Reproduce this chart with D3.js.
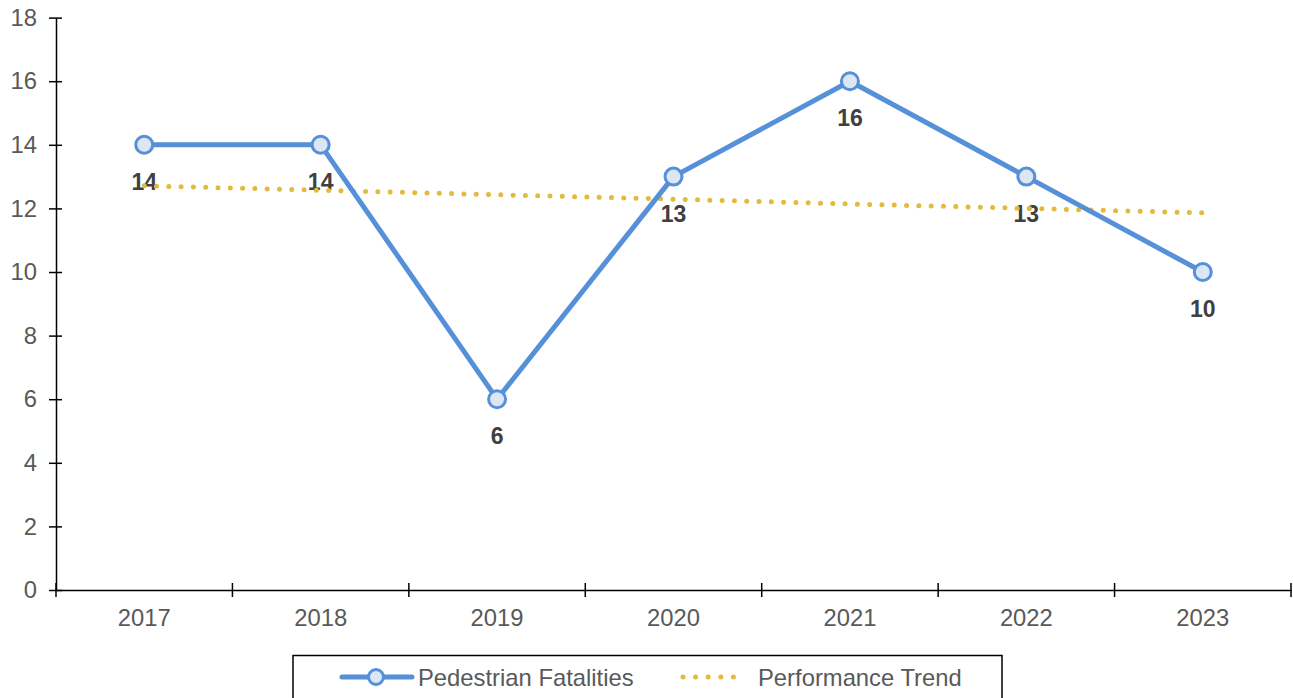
<!DOCTYPE html>
<html>
<head>
<meta charset="utf-8">
<script src="https://cdn.jsdelivr.net/npm/d3@7"></script>
<style>
  body { margin: 0; background: #ffffff; }
  svg { display: block; font-family: "Liberation Sans", Arial, sans-serif; }
</style>
</head>
<body>
<div id="chart"></div>
<script>
// Data
const years = ['2017', '2018', '2019', '2020', '2021', '2022', '2023'];
const fatalities = [14, 14, 6, 13, 16, 13, 10];
const trend = [12.71, 12.57, 12.43, 12.29, 12.14, 12.00, 11.86];
const yTicks = [0, 2, 4, 6, 8, 10, 12, 14, 16, 18];

const width = 1293, height = 698;
const margin = { left: 56, right: 2, top: 17.6, bottom: 108 };
const fontSize = '23.8px';

const svg = d3.select('#chart').append('svg')
  .attr('width', width)
  .attr('height', height);

const x = d3.scaleBand()
  .domain(years)
  .range([margin.left, width - margin.right]);

const y = d3.scaleLinear()
  .domain([0, 18])
  .range([height - margin.bottom, margin.top]);

const cx = d => x(d) + x.bandwidth() / 2;

// Y axis
const yAxis = svg.append('g')
  .attr('transform', `translate(${margin.left},0)`)
  .call(d3.axisLeft(y).tickValues(yTicks).tickSize(0).tickPadding(19));
yAxis.select('.domain').attr('stroke', '#000').attr('stroke-width', 1.5);
yAxis.selectAll('.tick line').remove();
yAxis.selectAll('.tick').append('line')
  .attr('x1', -7).attr('x2', 6)
  .attr('stroke', '#000').attr('stroke-width', 1.5);
yAxis.selectAll('.tick text')
  .attr('fill', '#595959').attr('font-size', fontSize);

// X axis
const xAxis = svg.append('g')
  .attr('transform', `translate(0,${y(0)})`)
  .call(d3.axisBottom(x).tickSize(0).tickPadding(19));
xAxis.select('.domain').attr('stroke', '#000').attr('stroke-width', 1.5);
xAxis.selectAll('.tick text')
  .attr('fill', '#595959').attr('font-size', fontSize);
xAxis.selectAll('.boundary')
  .data(years.map(d => x(d)).concat([x(years[years.length - 1]) + x.bandwidth()]))
  .join('line')
  .attr('x1', d => d).attr('x2', d => d)
  .attr('y1', -7).attr('y2', 7)
  .attr('stroke', '#000').attr('stroke-width', 1.5);

const blue = '#5590D8';
const gold = '#E2BA3C';

// Data labels
svg.append('g')
  .selectAll('text')
  .data(fatalities)
  .join('text')
  .attr('x', (d, i) => cx(years[i]))
  .attr('y', d => y(d) + 45)
  .attr('text-anchor', 'middle')
  .attr('font-size', '23px')
  .attr('font-weight', 'bold')
  .attr('fill', '#404040')
  .text(d => d);

// Trend line (dotted)
svg.append('path')
  .datum(trend)
  .attr('fill', 'none')
  .attr('stroke', gold)
  .attr('stroke-width', 5)
  .attr('stroke-linecap', 'round')
  .attr('stroke-dasharray', '0 12.3')
  .attr('d', d3.line().x((d, i) => cx(years[i])).y(d => y(d)));

// Fatalities line
svg.append('path')
  .datum(fatalities)
  .attr('fill', 'none')
  .attr('stroke', blue)
  .attr('stroke-width', 5)
  .attr('stroke-linejoin', 'round')
  .attr('d', d3.line().x((d, i) => cx(years[i])).y(d => y(d)));

svg.append('g')
  .selectAll('circle')
  .data(fatalities)
  .join('circle')
  .attr('cx', (d, i) => cx(years[i]))
  .attr('cy', d => y(d))
  .attr('r', 8.5)
  .attr('fill', '#DCE6F4')
  .attr('stroke', blue)
  .attr('stroke-width', 3);

// Legend
const legend = svg.append('g');
legend.append('rect')
  .attr('x', 293).attr('y', 655.5)
  .attr('width', 709).attr('height', 60)
  .attr('fill', '#fff')
  .attr('stroke', '#000').attr('stroke-width', 1.5);

const ly = 677;
legend.append('line')
  .attr('x1', 342).attr('x2', 412).attr('y1', ly).attr('y2', ly)
  .attr('stroke', blue).attr('stroke-width', 5).attr('stroke-linecap', 'round');
legend.append('circle')
  .attr('cx', 376).attr('cy', ly).attr('r', 7.5)
  .attr('fill', '#DCE6F4').attr('stroke', blue).attr('stroke-width', 3);
legend.append('text')
  .attr('x', 418).attr('y', ly + 8.5)
  .attr('font-size', fontSize).attr('fill', '#595959')
  .text('Pedestrian Fatalities');

legend.append('line')
  .attr('x1', 683).attr('x2', 746).attr('y1', ly).attr('y2', ly)
  .attr('stroke', gold).attr('stroke-width', 5)
  .attr('stroke-linecap', 'round').attr('stroke-dasharray', '0 12.6');
legend.append('text')
  .attr('x', 758).attr('y', ly + 8.5)
  .attr('font-size', fontSize).attr('fill', '#595959')
  .text('Performance Trend');
</script>
</body>
</html>
